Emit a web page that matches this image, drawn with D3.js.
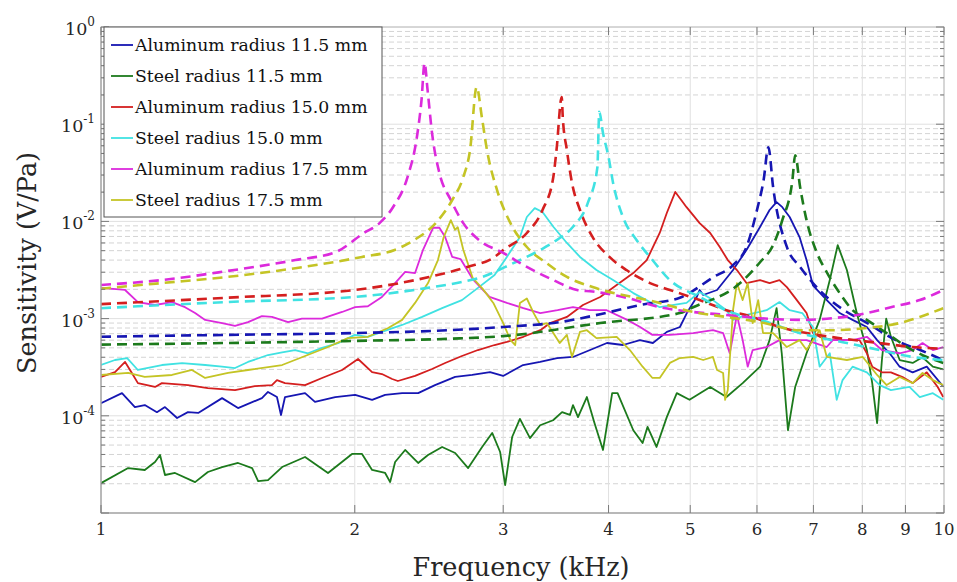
<!DOCTYPE html>
<html>
<head>
<meta charset="utf-8">
<script src="https://d3js.org/d3.v7.min.js"></script>
<style>
body { margin: 0; background: #fff; }
svg { font-family: 'DejaVu Serif', serif; }
.grid-major { stroke: #e0e0e0; stroke-width: 1; }
.grid-minor { stroke: #d4d4d4; stroke-width: 1; stroke-dasharray: 5,3; }
</style>
</head>
<body>
<script>
// legend / series names, in plotting order
var labels = ['Aluminum radius 11.5 mm', 'Steel radius 11.5 mm', 'Aluminum radius 15.0 mm',
              'Steel radius 15.0 mm', 'Aluminum radius 17.5 mm', 'Steel radius 17.5 mm'];
var colors = ['#1616b2', '#1c7a1c', '#d41f1f', '#40e2e2', '#dc2adc', '#c4c425'];

var xTicks = [1, 2, 3, 4, 5, 6, 7, 8, 9, 10];
var yExp = [0, -1, -2, -3, -4];

// measured curves: [frequency kHz, sensitivity V/Pa]
var alu115 = [[1.00,1.35e-4],[1.059,1.71e-4],[1.097,1.23e-4],[1.127,1.29e-4],[1.165,1.09e-4],[1.191,1.23e-4],
  [1.231,0.95e-4],[1.268,1.09e-4],[1.304,1.07e-4],[1.392,1.52e-4],[1.454,1.20e-4],[1.552,1.52e-4],[1.578,1.76e-4],
  [1.617,1.56e-4],[1.635,1.02e-4],[1.653,1.56e-4],[1.746,1.71e-4],[1.794,1.39e-4],[1.896,1.56e-4],[2.002,1.64e-4],
  [2.097,1.46e-4],[2.173,1.64e-4],[2.276,1.71e-4],[2.378,1.71e-4],[2.490,2.07e-4],[2.631,2.51e-4],[2.756,2.63e-4],
  [2.894,2.82e-4],[2.999,2.57e-4],[3.167,3.33e-4],[3.318,3.58e-4],[3.475,3.93e-4],[3.630,4.03e-4],[3.803,4.75e-4],
  [3.983,5.61e-4],[4.161,5.35e-4],[4.358,6.0e-4],[4.515,5.61e-4],[4.691,7.3e-4],[4.861,8.2e-4],[4.954,1.14e-3],
  [5.09,1.67e-3],[5.13,1.97e-3],[5.18,1.75e-3],[5.38,1.97e-3],[5.62,3.16e-3],[5.83,5.08e-3],[6.05,8.76e-3],
  [6.21,1.31e-2],[6.33,1.58e-2],[6.43,1.40e-2],[6.56,1.11e-2],[6.74,6.9e-3],[6.87,4.0e-3],[6.99,2.2e-3],
  [7.26,1.55e-3],[7.52,1.14e-3],[7.79,9.7e-4],[8.10,8.2e-4],[8.33,6.0e-4],[8.62,4.4e-4],[8.86,3.2e-4],
  [9.18,2.8e-4],[9.54,3.2e-4],[9.98,2.0e-4]];
var steel115 = [[1.00,2.03e-5],[1.077,2.9e-5],[1.127,2.77e-5],[1.159,3.35e-5],[1.175,3.95e-5],[1.191,2.46e-5],
  [1.224,2.58e-5],[1.293,2.08e-5],[1.339,2.64e-5],[1.392,2.97e-5],[1.454,3.27e-5],[1.511,2.9e-5],[1.536,2.13e-5],
  [1.578,2.18e-5],[1.640,2.97e-5],[1.746,3.77e-5],[1.859,2.58e-5],[1.985,4.05e-5],[2.04,4.05e-5],[2.097,2.77e-5],
  [2.173,2.58e-5],[2.203,2.08e-5],[2.233,3.35e-5],[2.295,4.45e-5],[2.378,3.27e-5],[2.443,3.95e-5],[2.539,4.78e-5],
  [2.631,4.14e-5],[2.726,2.9e-5],[2.832,4.78e-5],[2.911,6.66e-5],[2.975,4.24e-5],[3.016,1.94e-5],[3.074,6.05e-5],
  [3.140,9.3e-5],[3.228,5.9e-5],[3.318,8.0e-5],[3.438,9.0e-5],[3.523,1.09e-4],[3.60,1.02e-4],[3.63,1.29e-4],
  [3.68,9.7e-5],[3.77,1.56e-4],[3.85,8.4e-5],[3.94,4.45e-5],[4.04,1.71e-4],[4.10,1.71e-4],[4.28,7.1e-5],
  [4.39,5.25e-5],[4.45,7.7e-5],[4.56,4.78e-5],[4.69,9.7e-5],[4.82,1.71e-4],[4.99,1.46e-4],[5.28,1.98e-4],
  [5.52,1.56e-4],[5.77,2.17e-4],[6.05,3.2e-4],[6.21,6.0e-4],[6.33,1.28e-3],[6.42,4.4e-4],[6.53,7.1e-5],
  [6.66,1.98e-4],[6.87,4.4e-4],[7.12,9.7e-4],[7.32,2.49e-3],[7.48,5.7e-3],[7.67,3.16e-3],[7.88,1.14e-3],
  [8.10,4.75e-4],[8.22,2.17e-4],[8.33,8.4e-5],[8.44,3.75e-4],[8.54,1.0e-3],[8.65,6.5e-4],[8.86,3.75e-4],
  [9.18,3.5e-4],[9.43,4.0e-4],[9.70,3.2e-4],[9.98,3.0e-4]];
var alu150 = [[1.00,2.51e-4],[1.039,2.82e-4],[1.068,3.58e-4],[1.088,2.76e-4],[1.106,2.17e-4],[1.159,1.98e-4],
  [1.181,2.17e-4],[1.268,2.07e-4],[1.339,1.93e-4],[1.442,1.84e-4],[1.522,2.02e-4],[1.595,2.07e-4],[1.617,2.33e-4],
  [1.653,2.17e-4],[1.746,2.07e-4],[1.829,2.45e-4],[1.932,2.96e-4],[2.018,3.84e-4],[2.097,2.82e-4],[2.154,2.69e-4],
  [2.215,2.39e-4],[2.25,2.28e-4],[2.358,2.57e-4],[2.470,3.03e-4],[2.56,3.49e-4],[2.68,4.12e-4],[2.80,4.75e-4],
  [2.93,5.35e-4],[3.03,5.75e-4],[3.17,6.5e-4],[3.32,7.6e-4],[3.41,9.0e-4],[3.57,1.04e-3],[3.73,1.38e-3],
  [3.91,1.67e-3],[4.09,2.22e-3],[4.28,2.94e-3],[4.44,4.0e-3],[4.60,7.6e-3],[4.69,1.22e-2],[4.80,2.01e-2],
  [4.95,1.40e-2],[5.13,9.6e-3],[5.28,7.6e-3],[5.42,5.45e-3],[5.54,4.0e-3],[5.68,3.16e-3],[5.83,2.32e-3],
  [6.05,2.49e-3],[6.21,2.32e-3],[6.38,2.49e-3],[6.51,2.11e-3],[6.69,1.55e-3],[6.87,1.14e-3],[6.99,7.1e-4],
  [7.12,6.5e-4],[7.38,6.0e-4],[7.65,6.0e-4],[7.94,6.0e-4],[8.10,4.4e-4],[8.22,3.2e-4],[8.44,2.8e-4],
  [8.65,2.8e-4],[8.93,2.5e-4],[9.18,2.17e-4],[9.54,2.8e-4],[9.83,1.98e-4],[9.98,1.56e-4]];
var steel150 = [[1.00,3.33e-4],[1.039,3.75e-4],[1.074,3.93e-4],[1.106,2.96e-4],[1.181,3.33e-4],[1.248,3.49e-4],
  [1.329,3.33e-4],[1.392,3.2e-4],[1.442,3.1e-4],[1.494,3.58e-4],[1.578,4.22e-4],[1.640,4.5e-4],[1.699,4.75e-4],
  [1.760,4.4e-4],[1.829,5.0e-4],[1.911,5.6e-4],[2.00,6.8e-4],[2.073,6.5e-4],[2.154,7.3e-4],[2.276,8.6e-4],
  [2.404,1.04e-3],[2.539,1.28e-3],[2.68,1.55e-3],[2.80,2.07e-3],[2.93,2.81e-3],[3.03,4.31e-3],[3.14,6.9e-3],
  [3.20,1.11e-2],[3.27,1.37e-2],[3.34,1.25e-2],[3.44,8.8e-3],[3.57,6.0e-3],[3.70,4.31e-3],[3.87,3.16e-3],
  [4.05,2.49e-3],[4.28,1.83e-3],[4.60,1.31e-3],[4.95,1.45e-3],[5.13,1.88e-3],[5.32,1.55e-3],[5.52,1.22e-3],
  [5.62,9.7e-4],[5.83,1.09e-3],[6.16,1.22e-3],[6.38,1.48e-3],[6.56,1.22e-3],[6.79,1.14e-3],[6.99,8.2e-4],
  [7.12,3.2e-4],[7.32,4.4e-4],[7.46,1.46e-4],[7.58,2.33e-4],[7.79,3.2e-4],[8.10,2.8e-4],[8.39,2.07e-4],
  [8.65,1.84e-4],[9.10,1.98e-4],[9.36,1.56e-4],[9.70,1.71e-4],[9.98,1.46e-4]];
var alu175 = [[1.00,2.07e-3],[1.068,1.97e-3],[1.106,1.48e-3],[1.159,1.38e-3],[1.214,1.48e-3],[1.258,1.31e-3],
  [1.293,1.14e-3],[1.329,9.7e-4],[1.392,9.0e-4],[1.442,8.4e-4],[1.494,9.2e-4],[1.552,1.06e-3],[1.595,1.04e-3],
  [1.667,9.2e-4],[1.731,1.0e-3],[1.829,1.0e-3],[1.932,1.17e-3],[2.002,1.31e-3],[2.073,1.34e-3],[2.154,1.67e-3],
  [2.233,2.32e-3],[2.295,3.02e-3],[2.358,2.94e-3],[2.410,5.1e-3],[2.477,8.6e-3],[2.52,8.6e-3],[2.56,6.9e-3],
  [2.61,4.31e-3],[2.67,4.1e-3],[2.76,2.55e-3],[2.89,1.67e-3],[3.03,1.45e-3],[3.17,1.28e-3],[3.32,1.14e-3],
  [3.48,1.22e-3],[3.63,1.31e-3],[3.80,1.22e-3],[3.98,1.22e-3],[4.21,9.7e-4],[4.36,8.2e-4],[4.51,6.8e-4],
  [4.73,6.8e-4],[5.04,7.1e-4],[5.32,7.6e-4],[5.47,7.1e-4],[5.57,4.4e-4],[5.68,1.09e-3],[5.77,6.0e-4],
  [5.85,3.2e-4],[5.93,4.75e-4],[6.16,5.1e-4],[6.38,6.0e-4],[6.87,6.0e-4],[7.26,5.1e-4],[7.38,6.0e-4],
  [7.79,6.0e-4],[8.10,6.5e-4],[8.44,4.75e-4],[8.86,4.4e-4],[9.18,4.75e-4],[9.43,5.6e-4],[9.70,4.75e-4],[9.98,5.1e-4]];
var steel175 = [[1.00,2.63e-4],[1.077,2.76e-4],[1.127,2.51e-4],[1.214,2.63e-4],[1.282,2.96e-4],[1.329,2.45e-4],
  [1.415,2.76e-4],[1.494,2.96e-4],[1.640,3.33e-4],[1.731,4.0e-4],[1.859,5.1e-4],[1.963,6.3e-4],[2.073,6.5e-4],
  [2.191,8.0e-4],[2.276,9.7e-4],[2.358,1.45e-3],[2.443,2.32e-3],[2.51,4.0e-3],[2.55,6.9e-3],[2.60,1.03e-2],
  [2.63,8.2e-3],[2.65,8.7e-3],[2.69,5.1e-3],[2.76,2.62e-3],[2.84,2.0e-3],[2.92,1.45e-3],[3.00,9.0e-4],
  [3.06,6.0e-4],[3.10,5.35e-4],[3.14,1.45e-3],[3.20,1.61e-3],[3.26,1.14e-3],[3.32,8.6e-4],[3.38,9.0e-4],
  [3.44,7.1e-4],[3.50,5.6e-4],[3.57,6.8e-4],[3.62,4.03e-4],[3.70,7.3e-4],[3.77,7.6e-4],[3.87,6.3e-4],
  [4.09,6.5e-4],[4.24,4.75e-4],[4.39,3.2e-4],[4.51,2.45e-4],[4.60,2.45e-4],[4.73,3.5e-4],[4.86,3.93e-4],
  [5.04,4.03e-4],[5.18,3.75e-4],[5.32,4.03e-4],[5.38,2.96e-4],[5.47,2.76e-4],[5.50,1.46e-4],[5.54,1.84e-4],
  [5.62,1.22e-3],[5.68,2.32e-3],[5.77,1.55e-3],[5.85,2.32e-3],[5.93,9.0e-4],[6.02,1.55e-3],[6.10,7.1e-4],
  [6.27,7.1e-4],[6.51,5.1e-4],[6.74,6.0e-4],[6.87,4.75e-4],[7.12,7.6e-4],[7.26,4.03e-4],[7.67,3.75e-4],
  [8.01,4.03e-4],[8.33,2.63e-4],[8.55,2.07e-4],[8.86,2.51e-4],[9.18,2.17e-4],[9.43,2.76e-4],[9.70,2.33e-4],[9.98,2.07e-4]];

// model curves (dashed)
var alu115Model = [[1.00,6.5e-4],[1.41,6.8e-4],[2.00,7.1e-4],[2.59,7.6e-4],[3.00,8.2e-4],[3.50,9.2e-4],
  [3.91,1.11e-3],[4.36,1.38e-3],[4.86,1.64e-3],[5.33,2.68e-3],[5.62,3.55e-3],[5.83,5.45e-3],[6.00,1.31e-2],
  [6.11,2.67e-2],[6.19,5.8e-2],[6.27,2.26e-2],[6.51,5.46e-3],[6.75,3.4e-3],[6.99,2.32e-3],[7.33,1.55e-3],
  [7.67,1.17e-3],[8.11,9.0e-4],[8.47,7.1e-4],[8.87,5.7e-4],[9.37,4.75e-4],[9.97,3.75e-4]];
var steel115Model = [[1.00,5.4e-4],[2.00,5.9e-4],[2.59,6.2e-4],[3.00,6.6e-4],[3.91,9.0e-4],[4.86,1.14e-3],
  [5.04,1.31e-3],[5.73,2.32e-3],[6.05,3.8e-3],[6.27,5.7e-3],[6.43,1.03e-2],[6.61,2.67e-2],[6.66,4.8e-2],
  [6.75,2.26e-2],[6.87,1.03e-2],[7.07,4.7e-3],[7.27,2.94e-3],[7.52,1.83e-3],[7.79,1.22e-3],[8.10,9.7e-4],
  [8.55,7.1e-4],[9.04,5.1e-4],[9.54,4.03e-4],[9.98,3.5e-4]];
var alu150Model = [[1.00,1.41e-3],[1.41,1.64e-3],[2.00,1.97e-3],[2.45,2.68e-3],[2.72,3.4e-3],[2.93,4.3e-3],
  [3.00,5.08e-3],[3.20,7.6e-3],[3.34,1.31e-2],[3.44,2.86e-2],[3.47,5.4e-2],[3.52,0.19],[3.53,0.118],
  [3.57,5.4e-2],[3.62,2.49e-2],[3.70,1.31e-2],[3.83,6.9e-3],[4.01,4.31e-3],[4.20,3.16e-3],[4.48,2.32e-3],
  [4.73,1.97e-3],[5.13,1.55e-3],[5.52,1.22e-3],[5.93,1.04e-3],[6.38,8.2e-4],[7.33,6.5e-4],[8.39,5.6e-4],
  [9.18,5.1e-4],[9.98,4.9e-4]];
var steel150Model = [[1.00,1.28e-3],[1.41,1.48e-3],[2.00,1.67e-3],[2.44,2.07e-3],[2.68,2.38e-3],[2.81,2.62e-3],
  [3.08,3.7e-3],[3.32,5.08e-3],[3.47,6.4e-3],[3.63,8.8e-3],[3.78,1.55e-2],[3.88,3.6e-2],[3.90,0.134],
  [3.94,8.1e-2],[4.00,4.6e-2],[4.05,2.49e-2],[4.16,1.11e-2],[4.32,6.4e-3],[4.49,4.2e-3],[4.73,2.49e-3],
  [5.13,1.67e-3],[5.62,1.14e-3],[6.05,9.7e-4],[6.74,7.1e-4],[7.67,5.6e-4],[8.39,4.75e-4],[9.18,4.03e-4],[9.98,3.75e-4]];
var alu175Model = [[1.00,2.22e-3],[1.18,2.49e-3],[1.41,3.08e-3],[1.70,4.0e-3],[1.90,4.85e-3],[2.05,7.6e-3],
  [2.14,9.6e-3],[2.22,1.40e-2],[2.31,2.86e-2],[2.37,7.4e-2],[2.40,0.177],[2.42,0.426],[2.44,0.225],
  [2.47,8.1e-2],[2.52,3.15e-2],[2.60,1.66e-2],[2.69,9.6e-3],[2.81,6.4e-3],[3.00,4.74e-3],[3.20,3.4e-3],
  [3.44,2.49e-3],[3.67,1.97e-3],[3.83,1.9e-3],[4.20,1.64e-3],[4.60,1.31e-3],[5.04,1.17e-3],[5.52,1.09e-3],
  [6.05,1.01e-3],[6.75,9.7e-4],[7.38,1.01e-3],[8.10,1.14e-3],[8.65,1.31e-3],[9.36,1.55e-3],[9.98,1.97e-3]];
var steel175Model = [[1.00,2.03e-3],[1.18,2.32e-3],[1.41,2.68e-3],[1.70,3.3e-3],[2.04,4.31e-3],[2.23,5.08e-3],
  [2.35,6.4e-3],[2.50,9.8e-3],[2.61,1.66e-2],[2.69,2.86e-2],[2.74,5.4e-2],[2.79,0.241],[2.83,0.118],
  [2.87,5.4e-2],[2.95,2.1e-2],[3.06,9.6e-3],[3.20,5.45e-3],[3.38,3.7e-3],[3.57,2.68e-3],[3.83,2.11e-3],
  [4.60,1.45e-3],[5.04,1.17e-3],[5.52,1.04e-3],[6.05,9.2e-4],[6.75,7.6e-4],[7.38,7.6e-4],[8.10,8.0e-4],
  [8.86,9.0e-4],[9.36,1.04e-3],[9.98,1.28e-3]];

var measured = [alu115, steel115, alu150, steel150, alu175, steel175];
var models = [alu115Model, steel115Model, alu150Model, steel150Model, alu175Model, steel175Model];

var W = 957, H = 582;
var x = d3.scaleLog().domain([1, 10]).range([101, 944]);
var y = d3.scaleLog().domain([1e-5, 1]).range([513, 27]);

var svg = d3.select('body').append('svg').attr('width', W).attr('height', H);

// minor / major y values
var yMinor = [], yMajor = [];
for (var k = -5; k <= 0; k++) {
  yMajor.push(Math.pow(10, k));
  if (k < 0) for (var m = 2; m <= 9; m++) yMinor.push(m * Math.pow(10, k));
}

var grid = svg.append('g');
grid.selectAll('.ymin').data(yMinor).enter().append('line')
  .attr('class', 'grid-minor')
  .attr('x1', x(1)).attr('x2', x(10))
  .attr('y1', function(d){ return y(d); }).attr('y2', function(d){ return y(d); });
grid.selectAll('.ymaj').data(yMajor).enter().append('line')
  .attr('class', 'grid-major')
  .attr('x1', x(1)).attr('x2', x(10))
  .attr('y1', function(d){ return y(d); }).attr('y2', function(d){ return y(d); });
grid.selectAll('.xmaj').data(xTicks).enter().append('line')
  .attr('class', 'grid-major')
  .attr('y1', y(1)).attr('y2', y(1e-5))
  .attr('x1', function(d){ return x(d); }).attr('x2', function(d){ return x(d); });

svg.append('clipPath').attr('id', 'clip')
  .append('rect').attr('x', x(1)).attr('y', y(1)).attr('width', x(10) - x(1)).attr('height', y(1e-5) - y(1));

var plot = svg.append('g').attr('clip-path', 'url(#clip)');

var solidLine = d3.line().x(function(d){ return x(d[0]); }).y(function(d){ return y(d[1]); });
var modelLine = d3.line().curve(d3.curveMonotoneX)
  .x(function(d){ return x(d[0]); }).y(function(d){ return y(d[1]); });

measured.forEach(function(s, i) {
  plot.append('path').datum(s).attr('d', solidLine)
    .attr('fill', 'none').attr('stroke', colors[i]).attr('stroke-width', 1.8)
    .attr('stroke-linejoin', 'round');
});
models.forEach(function(s, i) {
  plot.append('path').datum(s).attr('d', modelLine)
    .attr('fill', 'none').attr('stroke', colors[i]).attr('stroke-width', 2.6)
    .attr('stroke-dasharray', '10,6');
});

// axes box
var box = svg.append('g').attr('stroke', '#9a9a9a').attr('fill', 'none');
box.append('rect').attr('x', x(1)).attr('y', y(1)).attr('width', x(10) - x(1)).attr('height', y(1e-5) - y(1))
  .attr('stroke', '#bdbdbd');
box.append('line').attr('x1', x(1)).attr('x2', x(1)).attr('y1', y(1)).attr('y2', y(1e-5));
box.append('line').attr('x1', x(1)).attr('x2', x(10)).attr('y1', y(1e-5)).attr('y2', y(1e-5));

// ticks (inside)
var ticks = svg.append('g').attr('stroke', '#7a7a7a').attr('stroke-width', 1);
xTicks.forEach(function(t) {
  ticks.append('line').attr('x1', x(t)).attr('x2', x(t)).attr('y1', y(1e-5)).attr('y2', y(1e-5) - 8);
  ticks.append('line').attr('x1', x(t)).attr('x2', x(t)).attr('y1', y(1)).attr('y2', y(1) + 8);
});
yMajor.forEach(function(t) {
  ticks.append('line').attr('x1', x(1)).attr('x2', x(1) + 8).attr('y1', y(t)).attr('y2', y(t));
  ticks.append('line').attr('x1', x(10)).attr('x2', x(10) - 8).attr('y1', y(t)).attr('y2', y(t));
});
yMinor.forEach(function(t) {
  ticks.append('line').attr('x1', x(1)).attr('x2', x(1) + 4).attr('y1', y(t)).attr('y2', y(t));
  ticks.append('line').attr('x1', x(10)).attr('x2', x(10) - 4).attr('y1', y(t)).attr('y2', y(t));
});

// tick labels
svg.append('g').selectAll('text').data(xTicks).enter().append('text')
  .attr('x', function(d){ return x(d); }).attr('y', 535)
  .attr('text-anchor', 'middle').attr('font-size', 16.5).attr('fill', '#262626')
  .text(function(d){ return d; });

var yl = svg.append('g').selectAll('text').data(yExp).enter().append('text')
  .attr('x', 95).attr('y', function(d){ return y(Math.pow(10, d)) + 8; })
  .attr('text-anchor', 'end').attr('font-size', 17.5).attr('fill', '#262626');
yl.append('tspan').text('10');
yl.append('tspan').attr('dy', -9).attr('font-size', 12).text(function(d){ return d === 0 ? '0' : '-' + (-d); });

// axis titles
svg.append('text').attr('x', 521).attr('y', 576).attr('text-anchor', 'middle')
  .attr('font-size', 25.5).attr('fill', '#262626').text('Frequency (kHz)');
svg.append('text').attr('transform', 'translate(36,263)rotate(-90)').attr('text-anchor', 'middle')
  .attr('font-size', 25.5).attr('fill', '#262626').text('Sensitivity (V/Pa)');

// legend
var lg = svg.append('g');
lg.append('rect').attr('x', 104).attr('y', 27).attr('width', 278).attr('height', 190)
  .attr('fill', '#fff').attr('stroke', '#555').attr('stroke-width', 1);
labels.forEach(function(l, i) {
  var cy = 45 + i * 31;
  lg.append('line').attr('x1', 111).attr('x2', 133).attr('y1', cy).attr('y2', cy)
    .attr('stroke', colors[i]).attr('stroke-width', 1.8);
  lg.append('text').attr('x', 135).attr('y', cy + 6).attr('font-size', 17.3).attr('fill', '#111').text(l);
});
</script>
</body>
</html>
